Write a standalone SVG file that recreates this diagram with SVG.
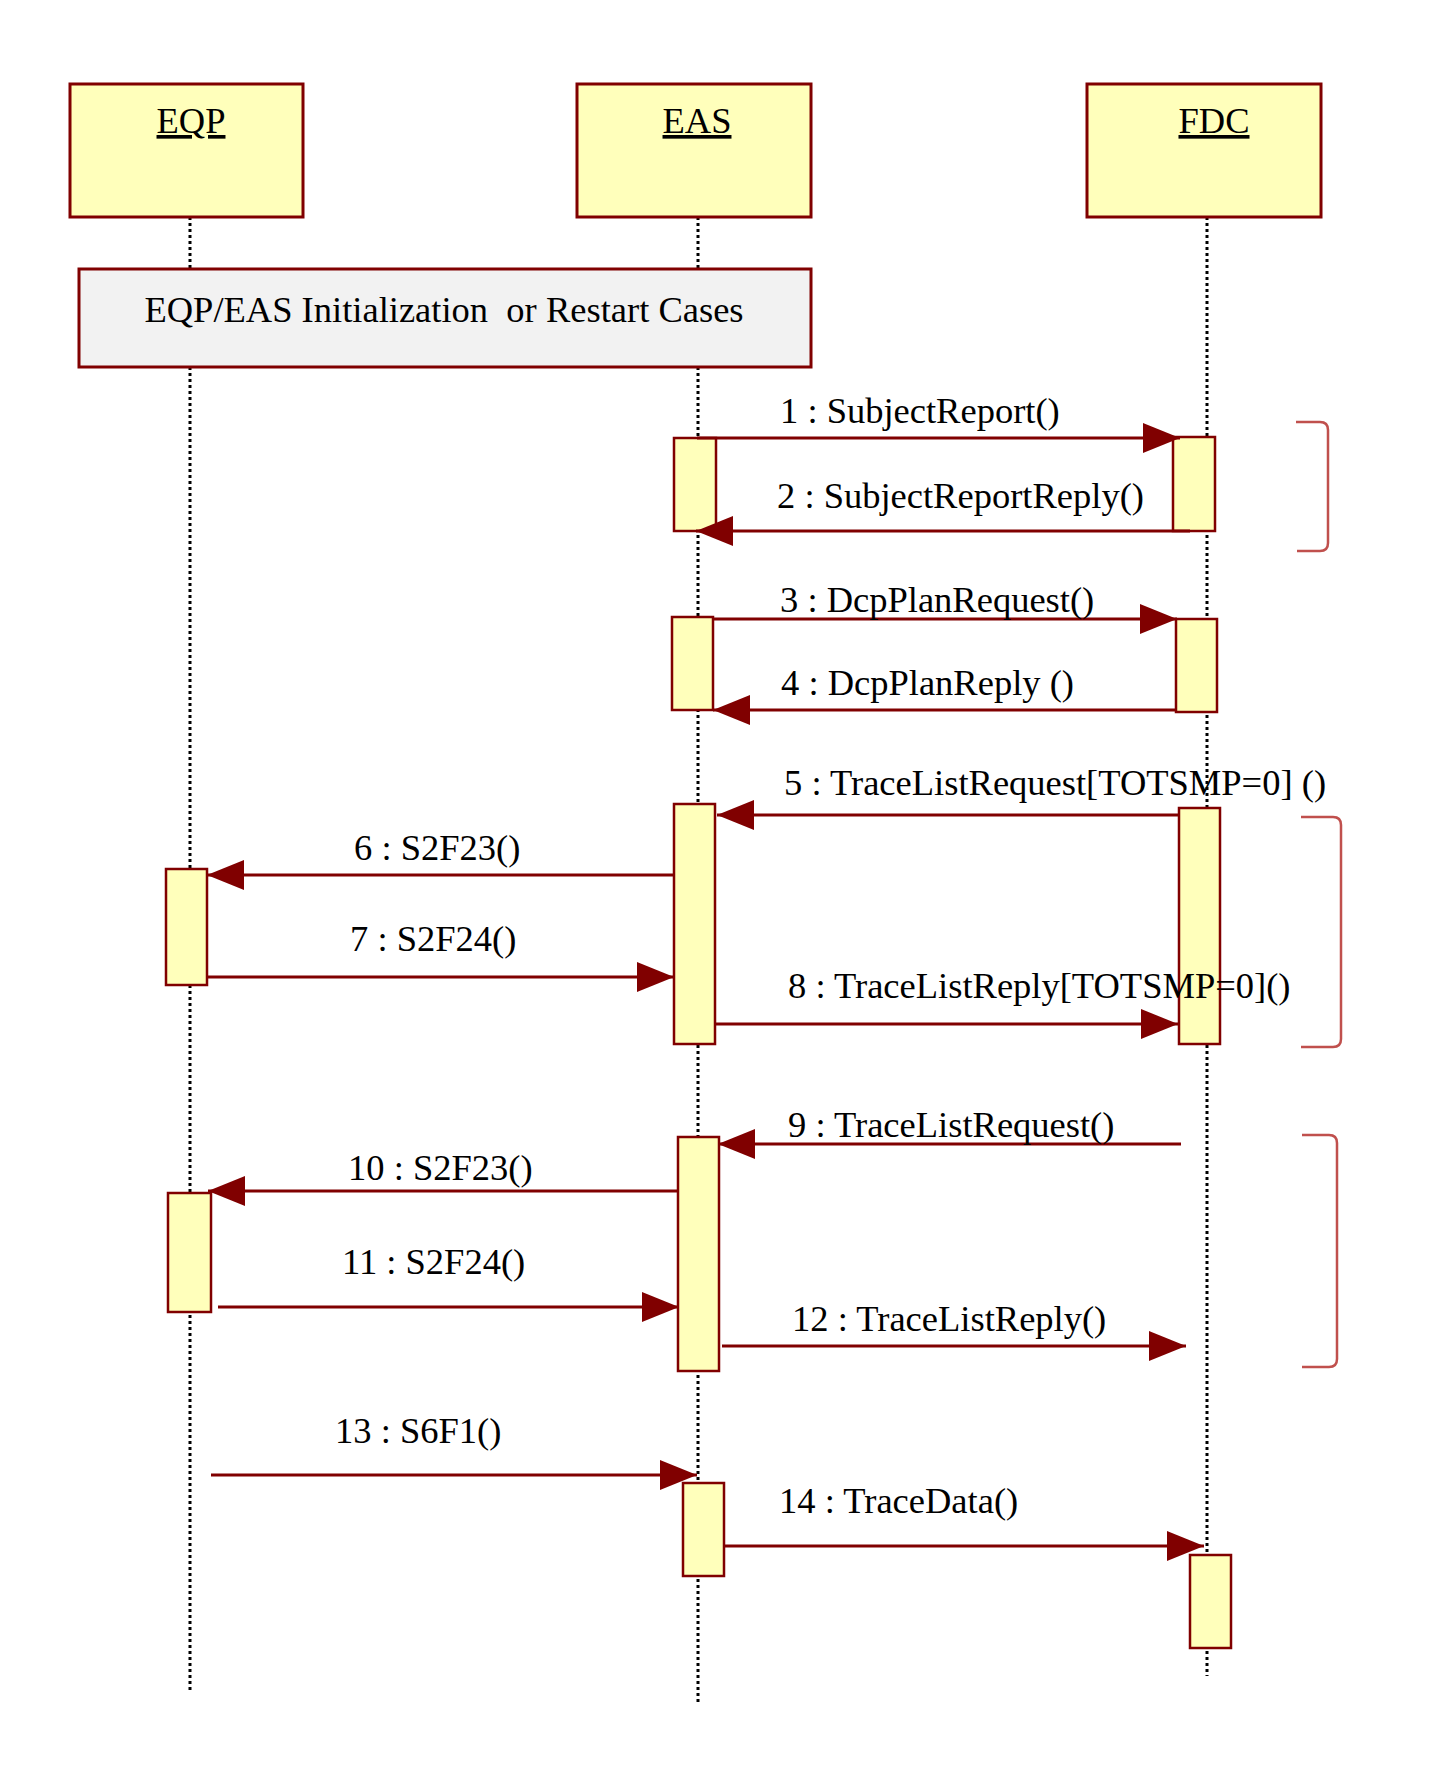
<svg xmlns="http://www.w3.org/2000/svg" width="1449" height="1773" viewBox="0 0 1449 1773">
<defs>
<style>
.box{fill:#ffffbb;stroke:#800000;stroke-width:3}
.act{fill:#ffffbb;stroke:#800000;stroke-width:2.5}
.frame{fill:#f2f2f2;stroke:#800000;stroke-width:3}
.life{stroke:#000;stroke-width:3;stroke-dasharray:3,3;fill:none}
.msg{stroke:#800000;stroke-width:3;fill:none;marker-end:url(#ah)}
.br{stroke:#c0504d;stroke-width:2.5;fill:none}
text{font-family:"Liberation Serif","Times New Roman",serif;font-size:36.5px;fill:#000}
.hd{text-anchor:middle;text-decoration:underline}
</style>
<marker id="ah" markerUnits="userSpaceOnUse" markerWidth="37" markerHeight="30" viewBox="0 0 37 30" refX="37" refY="15" orient="auto">
<path d="M0,0 L37,15 L0,30 Z" fill="#800000"/>
</marker>
</defs>
<rect width="1449" height="1773" fill="#fff"/>
<g id="lifelines">
<line class="life" x1="190" y1="217" x2="190" y2="1692"/>
<line class="life" x1="698" y1="217" x2="698" y2="1704"/>
<line class="life" x1="1207" y1="217" x2="1207" y2="1676"/>
</g>
<g id="EQP"><rect class="box" x="70" y="84" width="233" height="133"/><text class="hd" x="191" y="133">EQP</text></g>
<g id="EAS"><rect class="box" x="577" y="84" width="234" height="133"/><text class="hd" x="697" y="133">EAS</text></g>
<g id="FDC"><rect class="box" x="1087" y="84" width="234" height="133"/><text class="hd" x="1214" y="133">FDC</text></g>
<g id="init-frame"><rect class="frame" x="79" y="269" width="732" height="98"/><text x="444" y="322" text-anchor="middle" xml:space="preserve" font-size="36">EQP/EAS Initialization  or Restart Cases</text></g>
<g id="activations">
<rect class="act" x="674" y="438" width="42" height="93"/>
<rect class="act" x="1173" y="437" width="42" height="94"/>
<rect class="act" x="672" y="617" width="41" height="93"/>
<rect class="act" x="1176" y="619" width="41" height="93"/>
<rect class="act" x="674" y="804" width="41" height="240"/>
<rect class="act" x="1179" y="808" width="41" height="236"/>
<rect class="act" x="166" y="869" width="41" height="116"/>
<rect class="act" x="678" y="1137" width="41" height="234"/>
<rect class="act" x="168" y="1193" width="43" height="119"/>
<rect class="act" x="683" y="1483" width="41" height="93"/>
<rect class="act" x="1190" y="1555" width="41" height="93"/>
</g>
<g id="brackets">
<path class="br" d="M1296,422 H1320 Q1328,422 1328,430 V543 Q1328,551 1320,551 H1297"/>
<path class="br" d="M1301,817 H1333 Q1341,817 1341,825 V1039 Q1341,1047 1333,1047 H1301"/>
<path class="br" d="M1302,1135 H1329 Q1337,1135 1337,1143 V1359 Q1337,1367 1329,1367 H1302"/>
</g>
<g id="connectors">
<line class="msg" x1="697" y1="438" x2="1180" y2="438"/>
<line class="msg" x1="1190" y1="531" x2="696" y2="531"/>
<line class="msg" x1="713" y1="619" x2="1177" y2="619"/>
<line class="msg" x1="1176" y1="710" x2="713" y2="710"/>
<line class="msg" x1="1179" y1="815" x2="717" y2="815"/>
<line class="msg" x1="674" y1="875" x2="207" y2="875"/>
<line class="msg" x1="207" y1="977" x2="674" y2="977"/>
<line class="msg" x1="715" y1="1024" x2="1178" y2="1024"/>
<line class="msg" x1="1181" y1="1144" x2="718" y2="1144"/>
<line class="msg" x1="678" y1="1191" x2="208" y2="1191"/>
<line class="msg" x1="218" y1="1307" x2="679" y2="1307"/>
<line class="msg" x1="722" y1="1346" x2="1186" y2="1346"/>
<line class="msg" x1="211" y1="1475" x2="697" y2="1475"/>
<line class="msg" x1="724" y1="1546" x2="1204" y2="1546"/>
<text x="780" y="423">1 : SubjectReport()</text>
<text x="777" y="508">2 : SubjectReportReply()</text>
<text x="780" y="612">3 : DcpPlanRequest()</text>
<text x="781" y="695">4 : DcpPlanReply ()</text>
<text x="784" y="795">5 : TraceListRequest[TOTSMP=0] ()</text>
<text x="354" y="860">6 : S2F23()</text>
<text x="350" y="951">7 : S2F24()</text>
<text x="788" y="998">8 : TraceListReply[TOTSMP=0]()</text>
<text x="788" y="1137">9 : TraceListRequest()</text>
<text x="348" y="1180">10 : S2F23()</text>
<text x="342" y="1274">11 : S2F24()</text>
<text x="792" y="1331">12 : TraceListReply()</text>
<text x="335" y="1443">13 : S6F1()</text>
<text x="779" y="1513">14 : TraceData()</text>
</g>
</svg>
